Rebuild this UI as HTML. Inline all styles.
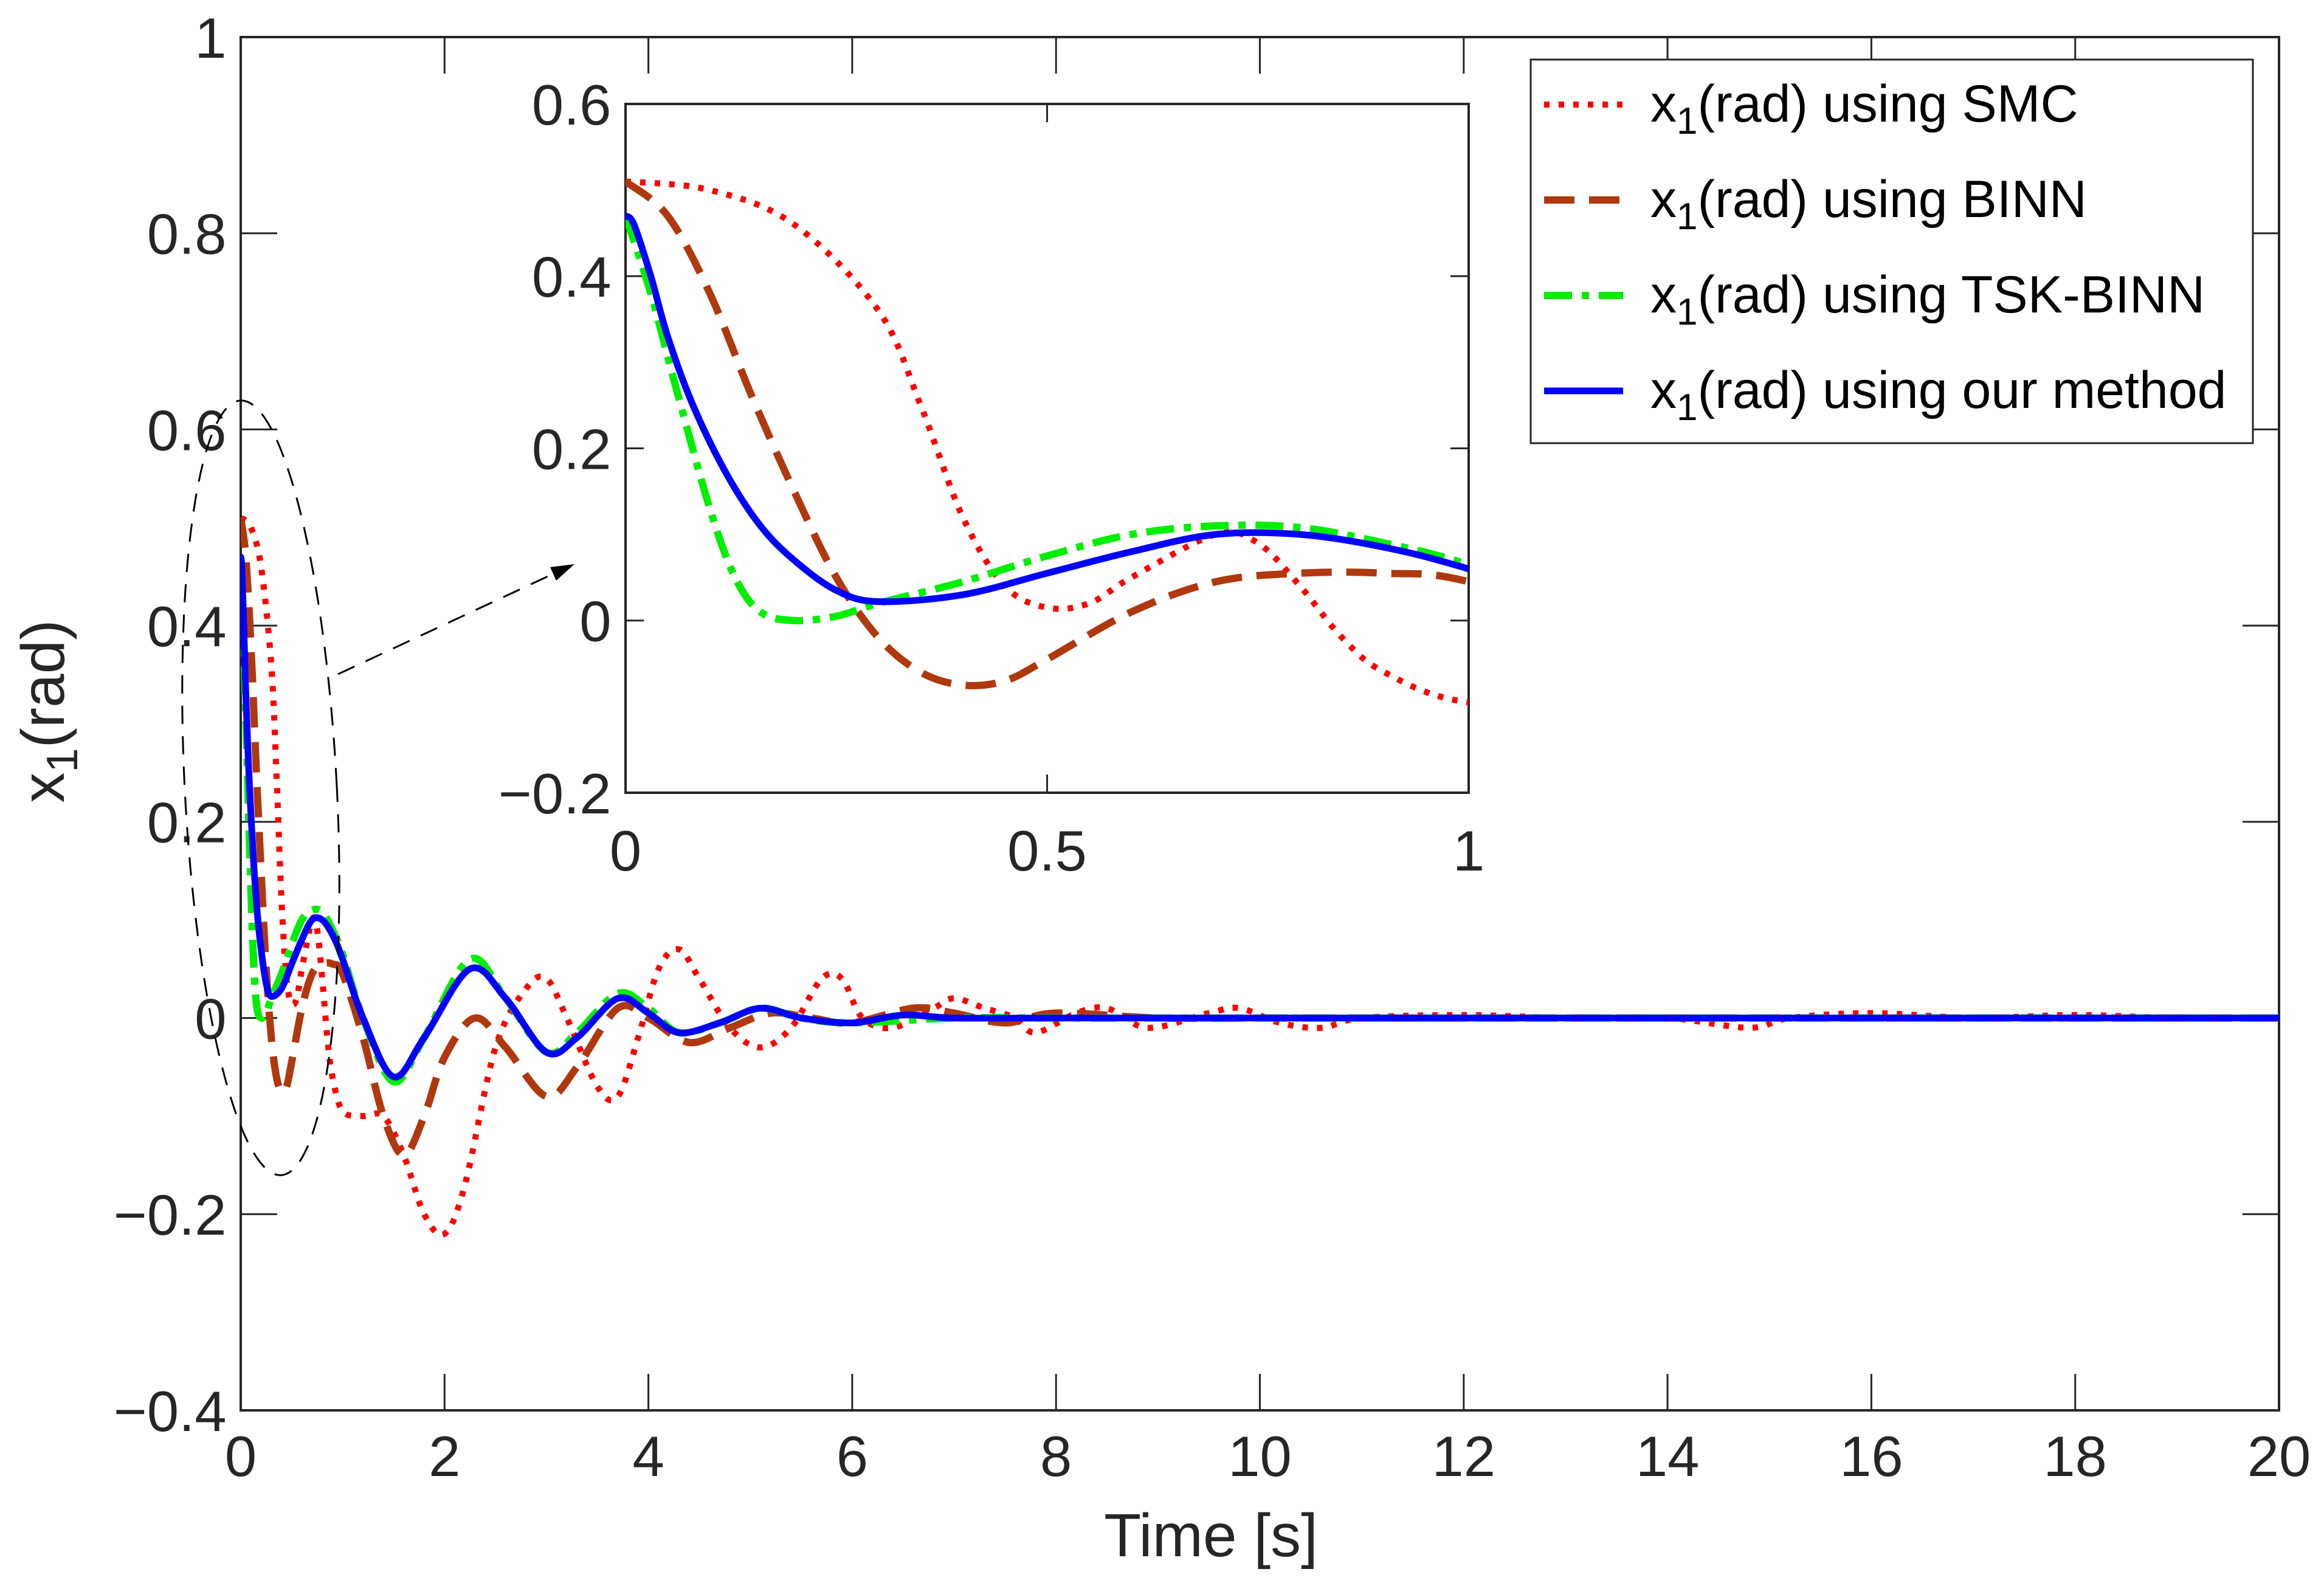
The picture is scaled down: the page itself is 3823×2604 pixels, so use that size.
<!DOCTYPE html>
<html><head><meta charset="utf-8"><style>
html,body{margin:0;padding:0;background:#fff;}
svg{display:block;font-family:"Liberation Sans",Arial,sans-serif;}
</style></head><body>
<svg id="chart" width="3823" height="2604" viewBox="0 0 3823 2604" xmlns="http://www.w3.org/2000/svg"></svg>
<script>
const smcT=[0,0.1,0.2,0.3,0.35,0.4,0.45,0.5,0.55,0.6,0.7,0.75,0.8,0.85,0.9,1.0,1.2,1.4,1.6,1.8,2.0,2.2,2.5,2.8,3.0,3.2,3.5,3.7,3.9,4.1,4.3,4.5,4.8,5.1,5.4,5.7,5.9,6.1,6.4,6.8,7.0,7.3,7.6,7.8,8.2,8.5,8.9,9.5,9.8,10.2,10.6,11,12,13,14,14.8,15.2,16,17,18,19,20];
const smcV=[0.51,0.5,0.46,0.36,0.25,0.12,0.04,0.015,0.02,0.05,0.1,0.09,0.04,-0.02,-0.06,-0.095,-0.1,-0.1,-0.14,-0.2,-0.22,-0.17,-0.03,0.03,0.04,0.0,-0.07,-0.08,-0.02,0.05,0.07,0.04,-0.01,-0.03,-0.01,0.04,0.04,0.0,-0.01,0.01,0.02,0.01,0.0,-0.015,0.005,0.01,-0.01,0.005,0.01,-0.005,-0.01,0,0.003,0,0,-0.01,0,0.005,0,0.003,0,0];
const binnT=[0,0.05,0.1,0.15,0.2,0.25,0.3,0.35,0.4,0.45,0.5,0.6,0.7,0.8,0.9,1.0,1.2,1.4,1.6,1.8,2.0,2.3,2.6,3.0,3.3,3.7,4.0,4.4,4.8,5.2,5.6,6.0,6.6,7.0,7.5,8,9,10,12,14,16,18,20];
const binnV=[0.51,0.47,0.38,0.26,0.15,0.05,-0.02,-0.06,-0.075,-0.07,-0.045,0.01,0.045,0.055,0.055,0.045,-0.02,-0.1,-0.14,-0.1,-0.04,0.0,-0.03,-0.08,-0.05,0.01,0.0,-0.025,-0.01,0.005,0.0,-0.005,0.01,0.005,-0.005,0.005,0,0,0,0,0,0,0];
const tskT=[0,0.03,0.06,0.1,0.13,0.16,0.2,0.25,0.3,0.4,0.5,0.6,0.7,0.8,0.9,1.0,1.2,1.5,1.8,2.25,2.6,3.0,3.3,3.7,4.0,4.3,4.7,5.1,5.5,6.0,7,8,10,12,14,16,18,20];
const tskV=[0.47,0.38,0.27,0.13,0.05,0.01,0.0,0.005,0.02,0.045,0.075,0.1,0.11,0.108,0.09,0.065,0.0,-0.065,-0.02,0.06,0.02,-0.035,-0.015,0.025,0.01,-0.015,-0.005,0.01,0.0,-0.005,0,0,0,0,0,0,0,0];
const oursT=[0,0.01,0.03,0.05,0.08,0.12,0.16,0.2,0.25,0.3,0.4,0.5,0.6,0.7,0.8,0.9,1.0,1.2,1.5,1.8,2.25,2.6,3.0,3.3,3.7,4.0,4.3,4.7,5.1,5.5,6.0,6.5,7,8,10,12,14,16,18,20];
const oursV=[0.47,0.46,0.4,0.33,0.25,0.17,0.11,0.07,0.035,0.022,0.03,0.055,0.08,0.1,0.1,0.085,0.06,0.0,-0.06,-0.02,0.05,0.02,-0.035,-0.02,0.02,0.005,-0.015,-0.005,0.01,0.0,-0.005,0.003,0,0,0,0,0,0,0,0];
const mainXTicks=[0,2,4,6,8,10,12,14,16,18,20];
const mainYTicks=[-0.4,-0.2,0,0.2,0.4,0.6,0.8,1];
const insetXTicks=[0,0.5,1];
const insetYTicks=[-0.2,0,0.2,0.4,0.6];
const seriesNames=["SMC","BINN","TSK-BINN","our method"];

const NS="http://www.w3.org/2000/svg";
const svg=document.getElementById('chart');
function mk(tag,attrs,parent){const e=document.createElementNS(NS,tag);for(const k in attrs)e.setAttribute(k,attrs[k]);(parent||svg).appendChild(e);return e;}
const M={x0:396,x1:3749,y0:2320,y1:61,xmin:0,xmax:20,ymin:-0.4,ymax:1};
const I={x0:1029,x1:2416,y0:1304,y1:171,xmin:0,xmax:1,ymin:-0.2,ymax:0.6};
function sx(a,v){return a.x0+(v-a.xmin)/(a.xmax-a.xmin)*(a.x1-a.x0);}
function sy(a,v){return a.y0-(v-a.ymin)/(a.ymax-a.ymin)*(a.y0-a.y1);}
const styles=[
 {t:smcT,v:smcV,c:"#ff0000",w:10,d:"9 15",cap:"butt"},
 {t:binnT,v:binnV,c:"#b0380e",w:12,d:"50 24",cap:"butt"},
 {t:tskT,v:tskV,c:"#00ee00",w:12,d:"46 16 12 16",cap:"butt"},
 {t:oursT,v:oursV,c:"#0000ff",w:11,d:"",cap:"round"}];
const names=["smc-line","binn-line","tsk-binn-line","our-method-line"];
function smoothPath(p){
  let d='M'+p[0][0].toFixed(1)+','+p[0][1].toFixed(1);
  for(let i=0;i<p.length-1;i++){
    const p0=p[i-1]||p[i],p1=p[i],p2=p[i+1],p3=p[i+2]||p2;
    const c1=[p1[0]+(p2[0]-p0[0])/6,p1[1]+(p2[1]-p0[1])/6];
    const c2=[p2[0]-(p3[0]-p1[0])/6,p2[1]-(p3[1]-p1[1])/6];
    d+=' C'+c1[0].toFixed(1)+','+c1[1].toFixed(1)+' '+c2[0].toFixed(1)+','+c2[1].toFixed(1)+' '+p2[0].toFixed(1)+','+p2[1].toFixed(1);
  }
  return d;
}
function drawAxes(a,xt,yt,fs,prefix,tl,xoff){
  const box=mk('rect',{x:a.x0,y:a.y1,width:a.x1-a.x0,height:a.y0-a.y1,fill:'#fff',stroke:'#262626','stroke-width':4});
  
  
  xt.forEach(v=>{const x=sx(a,v);
    mk('line',{x1:x,x2:x,y1:a.y0,y2:a.y0-tl,stroke:'#262626','stroke-width':3});
    mk('line',{x1:x,x2:x,y1:a.y1,y2:a.y1+tl,stroke:'#262626','stroke-width':3});
    const t=mk('text',{x:x,y:a.y0+xoff,'font-size':fs,'text-anchor':'middle',fill:'#262626'});
    t.textContent=String(v);
    
    });
  yt.forEach(v=>{const y=sy(a,v);
    mk('line',{x1:a.x0,x2:a.x0+tl,y1:y,y2:y,stroke:'#262626','stroke-width':3});
    mk('line',{x1:a.x1,x2:a.x1-tl,y1:y,y2:y,stroke:'#262626','stroke-width':3});
    const t=mk('text',{x:a.x0-fs*0.25,y:y+fs*0.36,'font-size':fs,'text-anchor':'end',fill:'#262626'});
    t.textContent=(v<0?'\u2212'+String(-v):String(v));
    
    });
}
function drawSeries(a,prefix,clipId){
  styles.forEach((s,i)=>{
    const pts=s.t.map((t,j)=>[sx(a,t),sy(a,s.v[j])]);
    const p=mk('path',{d:smoothPath(pts),fill:'none',stroke:s.c,'stroke-width':s.w,'stroke-dasharray':s.d,'stroke-linecap':s.cap,'stroke-linejoin':'round','clip-path':'url(#'+clipId+')'});
    
    
  });
}
const defs=mk('defs',{});
const c1=mk('clipPath',{id:'cm'},defs);mk('rect',{x:M.x0,y:M.y1,width:M.x1-M.x0,height:M.y0-M.y1},c1);
const c2=mk('clipPath',{id:'ci'},defs);mk('rect',{x:I.x0,y:I.y1,width:I.x1-I.x0,height:I.y0-I.y1},c2);

drawAxes(M,mainXTicks,mainYTicks,94,'main',60,108);
drawSeries(M,'main','cm');
const el=mk('ellipse',{cx:429,cy:1296,rx:125,ry:638,fill:'none',stroke:'#000','stroke-width':3,'stroke-dasharray':'30 20',transform:'rotate(-3 429 1296)'});


const ar=mk('line',{x1:556,y1:1109,x2:925,y2:937,stroke:'#000','stroke-width':3,'stroke-dasharray':'30 20'});


mk('polygon',{points:'945,928 905,933 915,955',fill:'#000'});

drawAxes(I,insetXTicks,insetYTicks,94,'inset',30,128);
drawSeries(I,'inset','ci');

const xl=mk('text',{x:1992,y:2560,'font-size':100,'text-anchor':'middle',fill:'#262626'});
xl.textContent='Time [s]';


const yl=mk('text',{x:0,y:0,'font-size':100,'text-anchor':'middle',fill:'#262626',transform:'translate(105 1170) rotate(-90)'});
yl.innerHTML='x<tspan font-size="72" dy="22">1</tspan><tspan dy="-22">(rad)</tspan>';



const lg=mk('g',{});


mk('rect',{x:2518,y:98,width:1188,height:631,fill:'#fff',stroke:'#262626','stroke-width':3},lg);
styles.forEach((s,i)=>{
  const y=172+i*157;
  const g=mk('g',{},lg);
  
  
  mk('line',{x1:2540,x2:2670,y1:y,y2:y,stroke:s.c,'stroke-width':s.w,'stroke-dasharray':s.d},g);
  const t=mk('text',{x:2715,y:y+28,'font-size':86,fill:'#000'},g);
  t.innerHTML='x<tspan font-size="62" dy="20">1</tspan><tspan dy="-20">(rad) using '+seriesNames[i]+'</tspan>';
});
</script>
</body></html>
